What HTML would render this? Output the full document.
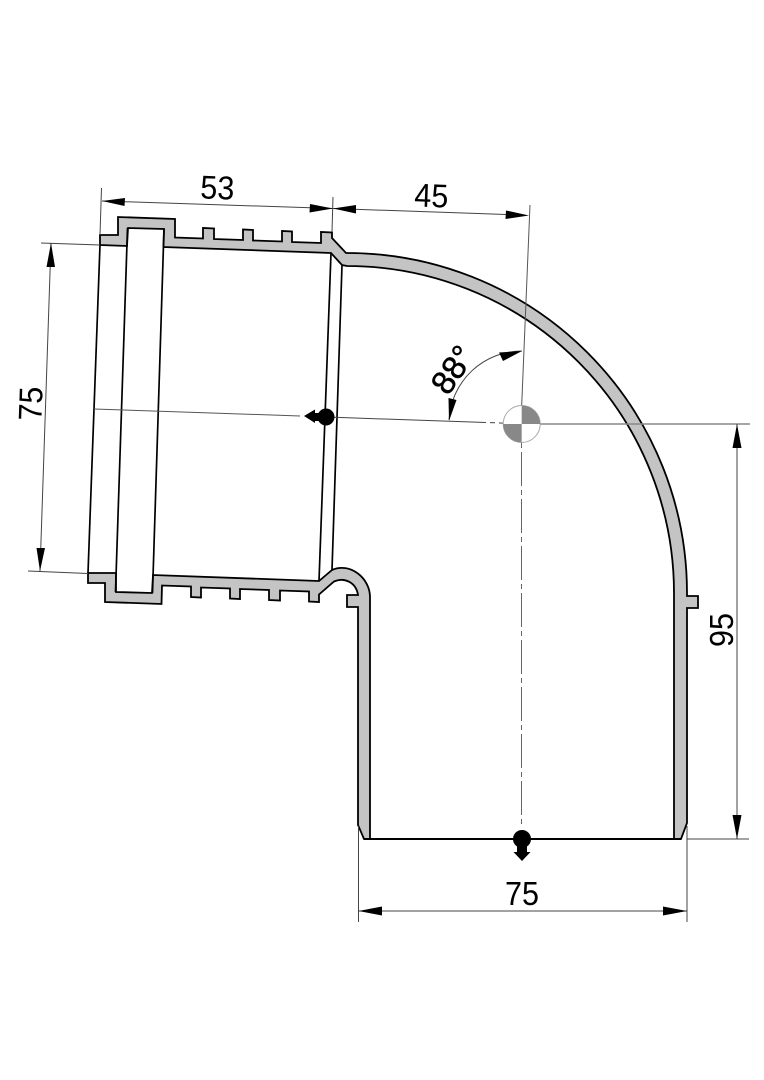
<!DOCTYPE html>
<html><head><meta charset="utf-8"><style>
html,body{margin:0;padding:0;background:#fff}
svg{display:block}
text{font-family:"Liberation Sans",sans-serif;font-size:33px;fill:#000;text-anchor:middle}
</style></head><body>
<svg width="764" height="1080" viewBox="0 0 764 1080" xmlns="http://www.w3.org/2000/svg">
<rect width="764" height="1080" fill="#fff"/>
<!-- pipe body -->
<path d="M100 235L118 235L118 217L175 219L175 237.500L203 238.500L203 228L214 228.500L214 239L243 240L243 229.500L253 230L253 240.500L282 241.500L282 231L292 231.500L292 242L321 243L321 232L332 232.500L332 238L346 253A340 340 0 0 1 687 593L687 596L698 596L698 608L687 608L687 823L681 839L674 839L674 593A327 327 0 0 0 347 266L342 265L331 253L163.500 247L164 229L128 228L127 246L100 245Z" fill="#c4c4c4" stroke="#000" stroke-width="1.8" stroke-linejoin="miter"/>
<path d="M88 573L88 583L105 583L105 602L161.500 604L162 585.500L191 586.500L191 597L201 597.500L201 587.500L230 588.500L230 598.500L240 599L240 589L269 590L269 600L280 600.500L280 590.500L309 591.500L309 601.500L319 602L319 594.500L334 581.500C344 577 356 582 358 595L347 595L347 607L358 607L358 825L364 839L370 839L370 597C370 578 350 562 332 570L319 581L153 575L152 593L116 592L116 573Z" fill="#c4c4c4" stroke="#000" stroke-width="1.8" stroke-linejoin="miter"/>
<!-- interior lines -->
<g stroke="#000" stroke-width="1.7" fill="none">
<path d="M100 245L88 573"/>
<path d="M127.500 228L115.500 592"/>
<path d="M164 229L152.500 593"/>
<path d="M331 253L319 581"/>
<path d="M342 265L332 570"/>
<path d="M364 839L681 839" stroke-width="2"/>
</g>
<!-- centre lines -->
<g stroke="#555" stroke-width="1" fill="none">
<path d="M94 409L300 416"/>
<path d="M334 417.300L486 422.500M490 422.600L495 422.800M499 423L509 423.300" stroke="#444"/>
<path d="M521.500 424L521.500 432M521.500 442L521.500 448M521.500 452L521.500 824" stroke="#666" stroke-dasharray="34 4 5 4"/>
<path d="M540 424L750 424" stroke="#888" stroke-width="1.6"/>
</g>
<!-- centre symbol -->
<circle cx="521.700" cy="424" r="18.500" fill="#fff" stroke="#aaa" stroke-width="1"/>
<path d="M521.700 424L521.700 405.500A18.500 18.500 0 0 1 540.200 424Z" fill="#888"/>
<path d="M521.700 424L521.700 442.500A18.500 18.500 0 0 1 503.200 424Z" fill="#888"/>
<!-- dimension thin lines -->
<g stroke="#444" stroke-width="1" fill="none">
<path d="M101.500 188L100 235"/>
<path d="M333 197L332 232"/>
<path d="M102 201L333 208.500L506 214.500"/>
<path d="M530 205L521.700 405" stroke="#555"/>
<path d="M41 243L100 245"/>
<path d="M28 571L88 573.500"/>
<path d="M51 243L40 571"/>
<path d="M737 424L737 839"/>
<path d="M687 839L749 839"/>
<path d="M358.500 826L358.500 922"/>
<path d="M687 826L687 922"/>
<path d="M359 911L687 911"/>
<path d="M522 351A73 73 0 0 0 449 420"/>
</g>
<!-- arrowheads -->
<g fill="#000">
<path d="M102 201L125 198L124.500 206Z"/>
<path d="M333 208.500L310 204L309.500 212.500Z"/>
<path d="M333 208.500L356 205L356 213.500Z"/>
<path d="M529 215.500L506 210.500L505.500 219Z"/>
<path d="M51 243L46.500 267L55 267Z"/>
<path d="M40 571L36.500 548L45 548Z"/>
<path d="M737 424L732.500 448L741.500 448Z"/>
<path d="M737 839L732.500 815L741.500 815Z"/>
<path d="M358.500 911L382 906.500L382 915.500Z"/>
<path d="M687 911L663 906.500L663 915.500Z"/>
<path d="M522 351L499 352.500L503 361Z"/>
<path d="M449 421L448.500 398L456.500 400Z"/>
<!-- left marker -->
<circle cx="326" cy="417" r="8.500"/>
<path d="M304 416L315 409.500L315 413L320 413L320 421L315 421L315 423L304 416Z"/>
<!-- bottom marker -->
<circle cx="522" cy="839" r="9"/>
<path d="M517 842L527 842L527 852L530.500 852L522 861L513.500 852L517 852Z"/>
</g>
<!-- labels -->
<text x="217" y="199" transform="rotate(2 217 199)" textLength="34" lengthAdjust="spacingAndGlyphs">53</text>
<text x="431" y="207" transform="rotate(2 431 207)" textLength="34" lengthAdjust="spacingAndGlyphs">45</text>
<text x="42" y="404" transform="rotate(-88 42 404)" textLength="34" lengthAdjust="spacingAndGlyphs">75</text>
<text x="733" y="630" transform="rotate(-90 733 630)" textLength="34" lengthAdjust="spacingAndGlyphs">95</text>
<text x="522" y="905" textLength="34" lengthAdjust="spacingAndGlyphs">75</text>
<text x="462" y="376" transform="rotate(-56 462 376)" stroke="#000" stroke-width="0.5">88°</text>
</svg>
</body></html>
